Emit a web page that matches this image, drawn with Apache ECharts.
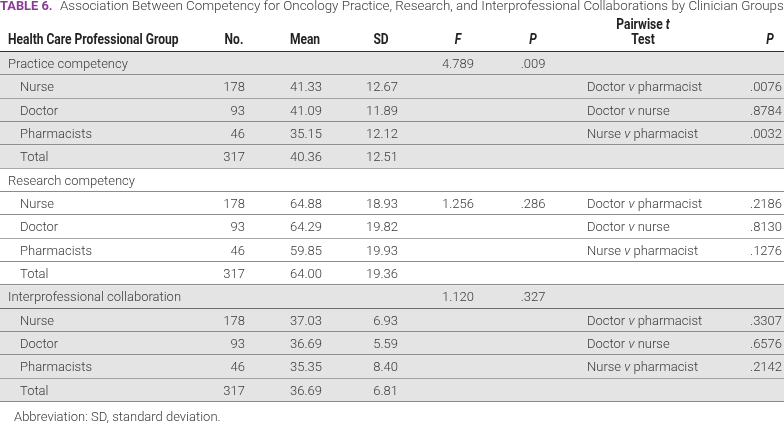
<!DOCTYPE html>
<html>
<head>
<meta charset="utf-8">
<script src="https://cdn.jsdelivr.net/npm/echarts@6/dist/echarts.min.js"></script>
<style>
  html, body { margin: 0; padding: 0; background: #fff; }
  #chart { width: 784px; height: 429px; }
</style>
</head>
<body>
<div id="chart"></div>
<script>
"use strict";

// ---- table data ----
const groups      = ["Practice competency", "Research competency", "Interprofessional collaboration"];
const professions = ["Nurse", "Doctor", "Pharmacists", "Total"];
const counts      = [178, 93, 46, 317];
const means = [
  ["41.33", "41.09", "35.15", "40.36"],
  ["64.88", "64.29", "59.85", "64.00"],
  ["37.03", "36.69", "35.35", "36.69"],
];
const sds = [
  ["12.67", "11.89", "12.12", "12.51"],
  ["18.93", "19.82", "19.93", "19.36"],
  ["6.93", "5.59", "8.40", "6.81"],
];
const fValues  = ["4.789", "1.256", "1.120"];
const fPValues = [".009", ".286", ".327"];
const fRowOffset = [0, 1, 0];          // research F/P sit on the Nurse line
const comparisons = ["Doctor {i|v} pharmacist", "Doctor {i|v} nurse", "Nurse {i|v} pharmacist"];
const pairP = [
  [".0076", ".8784", ".0032"],
  [".2186", ".8130", ".1276"],
  [".3307", ".6576", ".2142"],
];

// ---- layout ----
const W = 784;
const BODY_FONT = "Roboto, 'Liberation Sans', sans-serif";
const HEAD_FONT = "Roboto, 'Liberation Sans', sans-serif";
const HEAD_SCALE = 0.86;              // fake the condensed bold heading face
const INK = "#3a3a3a";
const SHADE = "#e4e4e4";
const COL = { label: 8, indent: 20, no: 245, mean: 322, sd: 398, f: 458, p: 533, test: 587, pp: 782 };

// rows and cells built from the arrays
const rows = [];   // { shaded, dark }
const cells = [];  // { x, row, text, align }
groups.forEach((g, gi) => {
  const base = rows.length;
  const shaded = gi % 2 === 0;
  rows.push({ shaded, dark: gi === 2 });
  cells.push({ x: COL.label, row: base, text: g, align: "left" });
  professions.forEach((p, pi) => {
    const r = base + 1 + pi;
    rows.push({ shaded, dark: false });
    cells.push({ x: COL.indent, row: r, text: p, align: "left" });
    cells.push({ x: COL.no, row: r, text: String(counts[pi]), align: "right" });
    cells.push({ x: COL.mean, row: r, text: means[gi][pi], align: "right" });
    cells.push({ x: COL.sd, row: r, text: sds[gi][pi], align: "right" });
    if (pi < comparisons.length) {
      cells.push({ x: COL.test, row: r, text: comparisons[pi], align: "left" });
      cells.push({ x: COL.pp, row: r, text: pairP[gi][pi], align: "right" });
    }
  });
  cells.push({ x: COL.f, row: base + fRowOffset[gi], text: fValues[gi], align: "center" });
  cells.push({ x: COL.p, row: base + fRowOffset[gi], text: fPValues[gi], align: "center" });
});
const rowKeys = rows.map((_, i) => String(i));

const bodyStyle = { fontFamily: BODY_FONT, fontSize: 13, fontWeight: 300, fill: INK };
const headStyle = { fontFamily: HEAD_FONT, fontSize: 14, fontWeight: "bold", fill: "#222" };

const chart = echarts.init(document.getElementById("chart"), null, { renderer: "canvas" });

const headText = (text, x, y, align) => ({
  type: "text", x, y, scaleX: HEAD_SCALE,
  style: { text, ...headStyle, align, verticalAlign: "middle",
           rich: { i: { ...headStyle, fontStyle: "italic" } } },
});

chart.setOption({
  animation: false,
  grid: { left: 0, right: 0, top: 52, bottom: 27 },
  xAxis: { type: "value", min: 0, max: W, show: false },
  yAxis: { type: "category", data: rowKeys, inverse: true, show: false },
  graphic: [
    { type: "text", x: 0, y: 7, scaleX: 0.95,
      style: { text: "TABLE 6.", fontFamily: HEAD_FONT, fontSize: 13.5, fontWeight: "bold",
               fill: "#8b3b97", verticalAlign: "middle" } },
    { type: "text", x: 60, y: 7,
      style: { text: "Association Between Competency for Oncology Practice, Research, and Interprofessional Collaborations by Clinician Groups",
               ...bodyStyle, fontSize: 13.4, verticalAlign: "middle" } },
    headText("Health Care Professional Group", COL.label, 40, "left"),
    headText("No.", 234, 40, "center"),
    headText("Mean", 305, 40, "center"),
    headText("SD", 381, 40, "center"),
    headText("{i|F}", COL.f, 40, "center"),
    headText("{i|P}", COL.p, 40, "center"),
    headText("Pairwise {i|t}", 643, 25, "center"),
    headText("Test", 643, 40, "center"),
    headText("{i|P}", 770, 40, "center"),
    { type: "rect", shape: { x: 0, y: 51, width: W, height: 2 }, style: { fill: "#333" } },
    { type: "text", x: 14, y: 418,
      style: { text: "Abbreviation: SD, standard deviation.", ...bodyStyle, verticalAlign: "middle" } },
  ],
  series: [
    {
      type: "custom",
      silent: true,
      data: rows.map((r, i) => [0, i]),
      renderItem(params, api) {
        const row = rows[params.dataIndex];
        const p0 = api.coord([0, api.value(1)]);
        const p1 = api.coord([W, api.value(1)]);
        const h = api.size([0, 1])[1];
        const top = p0[1] - h / 2, bot = Math.round(p0[1] + h / 2) - 0.5;
        return {
          type: "group",
          children: [
            { type: "rect", shape: { x: p0[0], y: top, width: p1[0] - p0[0], height: h },
              style: { fill: row.shaded ? SHADE : "#fff" } },
            { type: "line", shape: { x1: p0[0], y1: bot, x2: p1[0], y2: bot },
              style: { stroke: row.dark ? "#444" : "#8c8c8c", lineWidth: 1.2 } },
          ],
        };
      },
    },
    {
      type: "custom",
      silent: true,
      data: cells.map(c => [c.x, c.row]),
      renderItem(params, api) {
        const c = cells[params.dataIndex];
        const p = api.coord([api.value(0), api.value(1)]);
        return {
          type: "text", x: p[0], y: p[1] + 1,
          style: { text: c.text, ...bodyStyle, align: c.align, verticalAlign: "middle",
                   rich: { i: { ...bodyStyle, fontStyle: "italic" } } },
        };
      },
    },
  ],
});
</script>
</body>
</html>
